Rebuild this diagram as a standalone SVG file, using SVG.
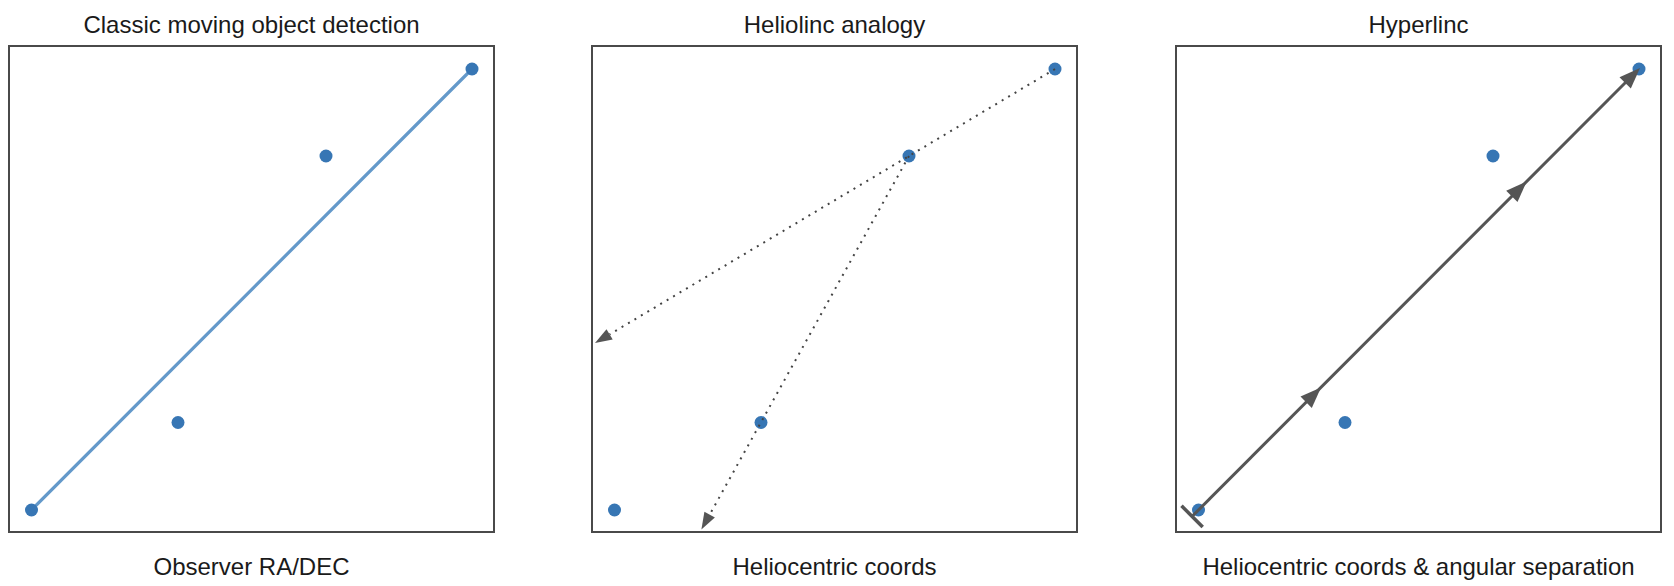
<svg xmlns="http://www.w3.org/2000/svg" width="1674" height="586" viewBox="0 0 1674 586">
  <style>
    .frame { fill: #ffffff; stroke: #4a4a4a; stroke-width: 2; }
    .lbl { font-family: "Liberation Sans", Arial, Helvetica, sans-serif; font-size: 24px; fill: #1a1a1a; text-anchor: middle; }
    .dot { fill: #3776b4; }
    .track { fill: none; stroke: #6499ca; stroke-width: 3.2; stroke-linecap: round; }
    .dotted { fill: none; stroke: #444444; stroke-width: 2; stroke-dasharray: 2 5.5; stroke-linecap: butt; }
    .head { fill: #555555; }
    .solid { fill: none; stroke: #555555; stroke-width: 3; }
    .bar { fill: none; stroke: #555555; stroke-width: 3.5; }
  </style>
  <rect width="1674" height="586" fill="#ffffff"/>

  <!-- Panel 1 -->
  <g id="panel-classic">
    <rect class="frame" x="9" y="46" width="485" height="486"/>
    <text class="lbl" x="251.5" y="33">Classic moving object detection</text>
    <text class="lbl" x="251.5" y="575">Observer RA/DEC</text>
  </g>
  <g id="connectors-classic">
    <line class="track" x1="31.5" y1="510" x2="472" y2="69"/>
  </g>
  <g id="points-classic">
    <circle class="dot" cx="31.5" cy="510" r="6.5"/>
    <circle class="dot" cx="178" cy="422.5" r="6.5"/>
    <circle class="dot" cx="326" cy="156" r="6.5"/>
    <circle class="dot" cx="472" cy="69" r="6.5"/>
  </g>

  <!-- Panel 2 -->
  <g id="panel-heliolinc" transform="translate(583,0)">
    <rect class="frame" x="9" y="46" width="485" height="486"/>
    <text class="lbl" x="251.5" y="33">Heliolinc analogy</text>
    <text class="lbl" x="251.5" y="575">Heliocentric coords</text>
    <g id="points-heliolinc">
      <circle class="dot" cx="31.5" cy="510" r="6.5"/>
      <circle class="dot" cx="178" cy="422.5" r="6.5"/>
      <circle class="dot" cx="326" cy="156" r="6.5"/>
      <circle class="dot" cx="472" cy="69" r="6.5"/>
    </g>
  </g>
  <g id="connectors-heliolinc" transform="translate(583,0)">
    <line class="dotted" x1="472" y1="69" x2="26.6" y2="334.4"/>
    <polygon class="head" points="12,343.1 29.7,339.6 23.5,329.3"/>
    <line class="dotted" x1="326" y1="156" x2="126.7" y2="514.6"/>
    <polygon class="head" points="118.4,529.5 131.9,517.5 121.4,511.7"/>
  </g>

  <!-- Panel 3 -->
  <g id="panel-hyperlinc" transform="translate(1167,0)">
    <rect class="frame" x="9" y="46" width="485" height="486"/>
    <text class="lbl" x="251.5" y="33">Hyperlinc</text>
    <text class="lbl" x="251.5" y="575">Heliocentric coords &amp; angular separation</text>
    <g id="points-hyperlinc">
      <circle class="dot" cx="31.5" cy="510" r="6.5"/>
      <circle class="dot" cx="178" cy="422.5" r="6.5"/>
      <circle class="dot" cx="326" cy="156" r="6.5"/>
      <circle class="dot" cx="472" cy="69" r="6.5"/>
    </g>
  </g>
  <g id="connectors-hyperlinc" transform="translate(1167,0)">
    <line class="solid" x1="25.1" y1="516.4" x2="460" y2="81"/>
    <line class="bar" x1="14.5" y1="505.8" x2="35.7" y2="527"/>
    <polygon class="head" points="154,387.4 144.8,407.9 133.5,396.6"/>
    <polygon class="head" points="359.7,181.5 350.5,202 339.2,190.7"/>
    <polygon class="head" points="473,68 463.8,88.5 452.5,77.2"/>
  </g>
</svg>
